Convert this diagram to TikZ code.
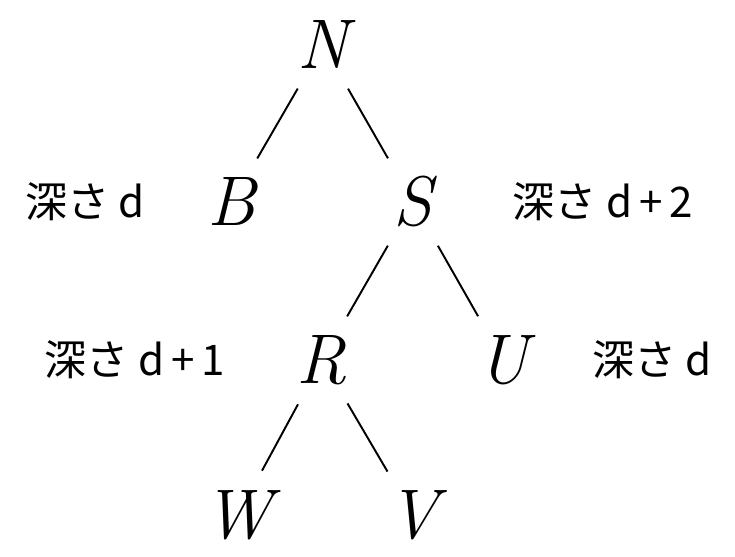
\documentclass[tikz,border=0pt]{standalone}
\usepackage{fontspec}
\newfontfamily\cjk{Noto Sans CJK JP}
\begin{document}
\begin{tikzpicture}[x=0.02cm,y=-0.02cm,
  tn/.style={circle,minimum size=2cm,inner sep=0pt,font=\fontsize{40}{46}\selectfont\itshape},
  lab/.style={inner sep=0pt,font=\fontsize{24}{28}\selectfont},
  edge/.style={line width=1.1pt}]
\useasboundingbox (0,0) rectangle (735,557);
\node[tn] (N) at (323,45) {N};
\node[tn] (B) at (232,202) {B};
\node[tn] (S) at (413,202) {S};
\node[tn] (R) at (322,360) {R};
\node[tn] (U) at (503,360) {U};
\node[tn] (W) at (238,515) {W};
\node[tn] (V) at (413,515) {V};
\node[lab] (l1) at (85,202) {\cjk 深さ\ \textit{d}};
\node[lab] (l2) at (603,202) {\cjk 深さ\ \textit{d}\,\textup{+}\,2};
\node[lab] (l3) at (135,360) {\cjk 深さ\ \textit{d}\,\textup{+}\,1};
\node[lab] (l4) at (652,360) {\cjk 深さ\ \textit{d}};
\draw[edge] (N) -- (B);
\draw[edge] (N) -- (S);
\draw[edge] (S) -- (R);
\draw[edge] (S) -- (U);
\draw[edge] (R) -- (W);
\draw[edge] (R) -- (V);
\end{tikzpicture}
\end{document}
